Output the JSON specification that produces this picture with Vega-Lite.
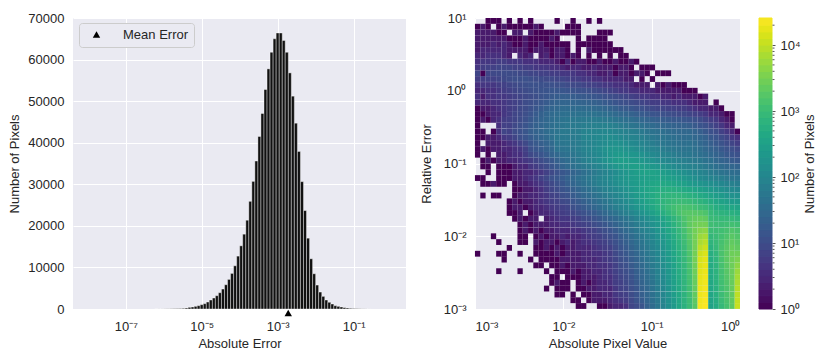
{"$schema":"https://vega.github.io/schema/vega-lite/v6.json","background":"white","padding":{"left":8,"top":12,"right":0,"bottom":0},
"config":{"view":{"fill":"#eaeaf2","stroke":null},"font":"Liberation Sans","axis":{"domain":false,"ticks":false,"grid":true,"gridColor":"white","gridWidth":1,"labelFont":"Liberation Sans","titleFont":"Liberation Sans","labelFontSize":13,"titleFontSize":13,"titleFontWeight":"normal","labelColor":"#262626","titleColor":"#262626"},"axisX":{"labelPadding":11,"titlePadding":4},"axisY":{"labelPadding":9,"titlePadding":6}},
"spacing":14,
"hconcat":[
{"width":333,"height":291,"layer":[
{"data":{"values":[{"lo":5.75e-7,"hi":6.92e-7,"n":5},{"lo":6.92e-7,"hi":8.32e-7,"n":10},{"lo":8.32e-7,"hi":1e-6,"n":15},{"lo":1e-6,"hi":1.2e-6,"n":25},{"lo":1.2e-6,"hi":1.45e-6,"n":35},{"lo":1.45e-6,"hi":1.74e-6,"n":50},{"lo":1.74e-6,"hi":2.09e-6,"n":70},{"lo":2.09e-6,"hi":2.51e-6,"n":90},{"lo":2.51e-6,"hi":3.02e-6,"n":120},{"lo":3.02e-6,"hi":3.63e-6,"n":160},{"lo":3.63e-6,"hi":4.37e-6,"n":240},{"lo":4.37e-6,"hi":5.25e-6,"n":400},{"lo":5.25e-6,"hi":6.31e-6,"n":480},{"lo":6.31e-6,"hi":7.59e-6,"n":640},{"lo":7.59e-6,"hi":9.12e-6,"n":800},{"lo":9.12e-6,"hi":1.1e-5,"n":1040},{"lo":1.1e-5,"hi":1.32e-5,"n":1280},{"lo":1.32e-5,"hi":1.58e-5,"n":1680},{"lo":1.58e-5,"hi":1.91e-5,"n":2160},{"lo":1.91e-5,"hi":2.29e-5,"n":2640},{"lo":2.29e-5,"hi":2.75e-5,"n":3200},{"lo":2.75e-5,"hi":3.31e-5,"n":3920},{"lo":3.31e-5,"hi":3.98e-5,"n":4800},{"lo":3.98e-5,"hi":4.79e-5,"n":5840},{"lo":4.79e-5,"hi":5.75e-5,"n":7120},{"lo":5.75e-5,"hi":6.92e-5,"n":8560},{"lo":6.92e-5,"hi":8.32e-5,"n":10400},{"lo":8.32e-5,"hi":1e-4,"n":12720},{"lo":1e-4,"hi":1.2e-4,"n":15200},{"lo":1.2e-4,"hi":1.45e-4,"n":18000},{"lo":1.45e-4,"hi":1.74e-4,"n":21360},{"lo":1.74e-4,"hi":2.09e-4,"n":25900},{"lo":2.09e-4,"hi":2.51e-4,"n":30700},{"lo":2.51e-4,"hi":3.02e-4,"n":35600},{"lo":3.02e-4,"hi":3.63e-4,"n":41500},{"lo":3.63e-4,"hi":4.37e-4,"n":47040},{"lo":4.37e-4,"hi":5.25e-4,"n":52800},{"lo":5.25e-4,"hi":6.31e-4,"n":57760},{"lo":6.31e-4,"hi":7.59e-4,"n":61760},{"lo":7.59e-4,"hi":9.12e-4,"n":65000},{"lo":9.12e-4,"hi":1.1e-3,"n":66400},{"lo":1.1e-3,"hi":1.32e-3,"n":66400},{"lo":1.32e-3,"hi":1.58e-3,"n":64600},{"lo":1.58e-3,"hi":1.91e-3,"n":61760},{"lo":1.91e-3,"hi":2.29e-3,"n":56800},{"lo":2.29e-3,"hi":2.75e-3,"n":51200},{"lo":2.75e-3,"hi":3.31e-3,"n":44700},{"lo":3.31e-3,"hi":3.98e-3,"n":37900},{"lo":3.98e-3,"hi":4.79e-3,"n":30640},{"lo":4.79e-3,"hi":5.75e-3,"n":23680},{"lo":5.75e-3,"hi":6.92e-3,"n":17040},{"lo":6.92e-3,"hi":8.32e-3,"n":12080},{"lo":8.32e-3,"hi":0.01,"n":8480},{"lo":0.01,"hi":0.012,"n":5760},{"lo":0.012,"hi":0.0145,"n":4080},{"lo":0.0145,"hi":0.0174,"n":3040},{"lo":0.0174,"hi":0.0209,"n":2160},{"lo":0.0209,"hi":0.0251,"n":1600},{"lo":0.0251,"hi":0.0302,"n":1200},{"lo":0.0302,"hi":0.0363,"n":800},{"lo":0.0363,"hi":0.0437,"n":640},{"lo":0.0437,"hi":0.0525,"n":480},{"lo":0.0525,"hi":0.0631,"n":320},{"lo":0.0631,"hi":0.0759,"n":240},{"lo":0.0759,"hi":0.0912,"n":160},{"lo":0.0912,"hi":0.11,"n":120},{"lo":0.11,"hi":0.132,"n":80},{"lo":0.132,"hi":0.158,"n":50},{"lo":0.158,"hi":0.191,"n":30},{"lo":0.191,"hi":0.229,"n":20},{"lo":0.229,"hi":0.275,"n":10}]},
"mark":{"type":"rect","fill":"#111111","stroke":"#ffffff","strokeWidth":0.4},
"encoding":{"x":{"field":"lo","type":"quantitative","scale":{"type":"log","domain":[4.07e-9,2.4],"nice":false},"axis":{"values":[1e-7,1e-5,1e-3,0.1],"title":"Absolute Error","labelExpr":"datum.value<1e-6?'10⁻⁷':datum.value<1e-4?'10⁻⁵':datum.value<0.01?'10⁻³':'10⁻¹'"}},"x2":{"field":"hi"},"y":{"field":"n","type":"quantitative","scale":{"domain":[0,70000],"nice":false},"axis":{"values":[0,10000,20000,30000,40000,50000,60000,70000],"title":"Number of Pixels","format":"d"}}}},
{"data":{"values":[{"mean":0.0019,"y":-960,"label":"Mean Error"}]},
"mark":{"type":"point","filled":true,"opacity":1,"size":55,"color":"black"},
"encoding":{"x":{"field":"mean","type":"quantitative"},"y":{"field":"y","type":"quantitative"},"shape":{"field":"label","type":"nominal","scale":{"range":["triangle-up"]},"legend":{"title":null,"orient":"none","legendX":6,"legendY":5,"fillColor":"#eaeaf2","strokeColor":"#cccccc","cornerRadius":3,"padding":5,"labelFontSize":13,"labelFont":"Liberation Sans","labelColor":"#262626","symbolSize":55,"symbolFillColor":"black","symbolStrokeColor":"black","labelOffset":20,"symbolOffset":6}}}}
]},
{"spacing":18,"hconcat":[
{"width":265,"height":291,
"data":{"values":"x,y,c\n.0148,.0011,1\n.017,.0011,1\n.0257,.0011,1\n.0295,.0011,1\n.0339,.0011,2\n.0389,.0011,3\n.0447,.0011,3\n.0513,.0011,4\n.0589,.0011,8\n.0676,.0011,10\n.0776,.0011,14\n.0891,.0011,22\n.102,.0011,35\n.117,.0011,55\n.135,.0011,90\n.155,.0011,150\n.178,.0011,240\n.204,.0011,400\n.234,.0011,650\n.269,.0011,1000\n.309,.0011,1800\n.355,.0011,22000\n.407,.0011,25000\n.468,.0011,350\n.537,.0011,500\n.617,.0011,900\n.708,.0011,1300\n.813,.0011,2000\n.933,.0011,11000\n.0129,.00132,1\n.0148,.00132,1\n.0195,.00132,1\n.0224,.00132,2\n.0257,.00132,2\n.0295,.00132,2\n.0339,.00132,3\n.0389,.00132,4\n.0447,.00132,5\n.0513,.00132,6\n.0589,.00132,9\n.0676,.00132,13\n.0776,.00132,18\n.0891,.00132,26\n.102,.00132,40\n.117,.00132,60\n.135,.00132,100\n.155,.00132,160\n.178,.00132,260\n.204,.00132,420\n.234,.00132,680\n.269,.00132,1050\n.309,.00132,2000\n.355,.00132,21000\n.407,.00132,24000\n.468,.00132,380\n.537,.00132,550\n.617,.00132,1000\n.708,.00132,1400\n.813,.00132,2100\n.933,.00132,10000\n.00851,.00158,1\n.00977,.00158,1\n.0129,.00158,1\n.017,.00158,1\n.0195,.00158,1\n.0224,.00158,2\n.0257,.00158,2\n.0295,.00158,3\n.0339,.00158,3\n.0389,.00158,5\n.0447,.00158,6\n.0513,.00158,7\n.0589,.00158,10\n.0676,.00158,14\n.0776,.00158,20\n.0891,.00158,28\n.102,.00158,42\n.117,.00158,65\n.135,.00158,105\n.155,.00158,170\n.178,.00158,280\n.204,.00158,440\n.234,.00158,700\n.269,.00158,1100\n.309,.00158,2200\n.355,.00158,20000\n.407,.00158,23000\n.468,.00158,400\n.537,.00158,600\n.617,.00158,1050\n.708,.00158,1450\n.813,.00158,2200\n.933,.00158,9500\n.00646,.00191,1\n.00851,.00191,1\n.00977,.00191,1\n.0112,.00191,1\n.0148,.00191,1\n.017,.00191,1\n.0195,.00191,2\n.0224,.00191,2\n.0257,.00191,3\n.0295,.00191,3\n.0339,.00191,3\n.0389,.00191,5\n.0447,.00191,7\n.0513,.00191,8\n.0589,.00191,11\n.0676,.00191,15\n.0776,.00191,22\n.0891,.00191,30\n.102,.00191,45\n.117,.00191,70\n.135,.00191,110\n.155,.00191,180\n.178,.00191,300\n.204,.00191,460\n.234,.00191,720\n.269,.00191,1150\n.309,.00191,2300\n.355,.00191,19000\n.407,.00191,22000\n.468,.00191,420\n.537,.00191,620\n.617,.00191,1100\n.708,.00191,1500\n.813,.00191,2300\n.933,.00191,8500\n.00741,.00229,1\n.00851,.00229,2\n.00977,.00229,1\n.0112,.00229,1\n.0148,.00229,1\n.017,.00229,2\n.0195,.00229,1\n.0224,.00229,2\n.0257,.00229,3\n.0295,.00229,3\n.0339,.00229,4\n.0389,.00229,6\n.0447,.00229,7\n.0513,.00229,9\n.0589,.00229,12\n.0676,.00229,17\n.0776,.00229,24\n.0891,.00229,33\n.102,.00229,48\n.117,.00229,75\n.135,.00229,120\n.155,.00229,190\n.178,.00229,320\n.204,.00229,480\n.234,.00229,740\n.269,.00229,1200\n.309,.00229,2400\n.355,.00229,18000\n.407,.00229,21000\n.468,.00229,440\n.537,.00229,640\n.617,.00229,1150\n.708,.00229,1600\n.813,.00229,2400\n.933,.00229,7500\n.00741,.00275,1\n.00851,.00275,1\n.0112,.00275,1\n.0129,.00275,1\n.0148,.00275,1\n.017,.00275,2\n.0195,.00275,2\n.0224,.00275,2\n.0257,.00275,3\n.0295,.00275,4\n.0339,.00275,4\n.0389,.00275,6\n.0447,.00275,8\n.0513,.00275,10\n.0589,.00275,13\n.0676,.00275,19\n.0776,.00275,26\n.0891,.00275,36\n.102,.00275,52\n.117,.00275,80\n.135,.00275,125\n.155,.00275,200\n.178,.00275,330\n.204,.00275,500\n.234,.00275,780\n.269,.00275,1250\n.309,.00275,2500\n.355,.00275,17000\n.407,.00275,20000\n.468,.00275,460\n.537,.00275,660\n.617,.00275,1200\n.708,.00275,1700\n.813,.00275,2500\n.933,.00275,6500\n.00186,.00331,1\n.00324,.00331,1\n.00646,.00331,1\n.00851,.00331,1\n.00977,.00331,1\n.0112,.00331,1\n.0129,.00331,2\n.0148,.00331,1\n.017,.00331,2\n.0195,.00331,2\n.0224,.00331,3\n.0257,.00331,3\n.0295,.00331,4\n.0339,.00331,5\n.0389,.00331,7\n.0447,.00331,9\n.0513,.00331,11\n.0589,.00331,15\n.0676,.00331,21\n.0776,.00331,28\n.0891,.00331,40\n.102,.00331,58\n.117,.00331,85\n.135,.00331,135\n.155,.00331,210\n.178,.00331,340\n.204,.00331,520\n.234,.00331,800\n.269,.00331,1300\n.309,.00331,2700\n.355,.00331,16000\n.407,.00331,19000\n.468,.00331,480\n.537,.00331,680\n.617,.00331,1250\n.708,.00331,1800\n.813,.00331,2600\n.933,.00331,5500\n.0049,.00398,1\n.00562,.00398,1\n.00741,.00398,1\n.00851,.00398,1\n.00977,.00398,2\n.0112,.00398,1\n.0129,.00398,2\n.0148,.00398,2\n.017,.00398,2\n.0195,.00398,3\n.0224,.00398,3\n.0257,.00398,4\n.0295,.00398,4\n.0339,.00398,5\n.0389,.00398,7\n.0447,.00398,10\n.0513,.00398,12\n.0589,.00398,17\n.0676,.00398,23\n.0776,.00398,31\n.0891,.00398,45\n.102,.00398,62\n.117,.00398,90\n.135,.00398,145\n.155,.00398,220\n.178,.00398,350\n.204,.00398,540\n.234,.00398,830\n.269,.00398,1350\n.309,.00398,2800\n.355,.00398,15000\n.407,.00398,18000\n.468,.00398,500\n.537,.00398,700\n.617,.00398,1300\n.708,.00398,1900\n.813,.00398,2700\n.933,.00398,4500\n.00214,.00479,1\n.00427,.00479,1\n.00562,.00479,1\n.00646,.00479,1\n.00741,.00479,1\n.00851,.00479,1\n.00977,.00479,2\n.0112,.00479,2\n.0129,.00479,2\n.0148,.00479,2\n.017,.00479,3\n.0195,.00479,3\n.0224,.00479,3\n.0257,.00479,4\n.0295,.00479,5\n.0339,.00479,6\n.0389,.00479,8\n.0447,.00479,11\n.0513,.00479,14\n.0589,.00479,19\n.0676,.00479,25\n.0776,.00479,35\n.0891,.00479,50\n.102,.00479,68\n.117,.00479,100\n.135,.00479,155\n.155,.00479,240\n.178,.00479,370\n.204,.00479,570\n.234,.00479,860\n.269,.00479,1400\n.309,.00479,3000\n.355,.00479,14000\n.407,.00479,17000\n.468,.00479,520\n.537,.00479,750\n.617,.00479,1350\n.708,.00479,2000\n.813,.00479,2800\n.933,.00479,3500\n.00107,.00575,1\n.00186,.00575,1\n.00214,.00575,1\n.00324,.00575,1\n.0049,.00575,1\n.00562,.00575,1\n.00646,.00575,1\n.00741,.00575,1\n.00851,.00575,2\n.00977,.00575,1\n.0112,.00575,2\n.0129,.00575,2\n.0148,.00575,2\n.017,.00575,3\n.0195,.00575,3\n.0224,.00575,4\n.0257,.00575,4\n.0295,.00575,5\n.0339,.00575,6\n.0389,.00575,9\n.0447,.00575,12\n.0513,.00575,16\n.0589,.00575,21\n.0676,.00575,28\n.0776,.00575,40\n.0891,.00575,55\n.102,.00575,75\n.117,.00575,110\n.135,.00575,170\n.155,.00575,260\n.178,.00575,400\n.204,.00575,600\n.234,.00575,900\n.269,.00575,1500\n.309,.00575,3000\n.355,.00575,12000\n.407,.00575,15000\n.468,.00575,560\n.537,.00575,800\n.617,.00575,1400\n.708,.00575,2000\n.813,.00575,2700\n.933,.00575,2800\n.00245,.00692,1\n.0049,.00692,1\n.00562,.00692,1\n.00646,.00692,2\n.00741,.00692,1\n.00851,.00692,2\n.00977,.00692,1\n.0112,.00692,2\n.0129,.00692,2\n.0148,.00692,3\n.017,.00692,3\n.0195,.00692,3\n.0224,.00692,4\n.0257,.00692,5\n.0295,.00692,6\n.0339,.00692,7\n.0389,.00692,10\n.0447,.00692,14\n.0513,.00692,18\n.0589,.00692,24\n.0676,.00692,32\n.0776,.00692,45\n.0891,.00692,60\n.102,.00692,85\n.117,.00692,120\n.135,.00692,185\n.155,.00692,280\n.178,.00692,430\n.204,.00692,640\n.234,.00692,950\n.269,.00692,1600\n.309,.00692,3000\n.355,.00692,9000\n.407,.00692,12000\n.468,.00692,650\n.537,.00692,900\n.617,.00692,1400\n.708,.00692,1900\n.813,.00692,2500\n.933,.00692,2200\n.00186,.00832,1\n.00324,.00832,1\n.00372,.00832,1\n.0049,.00832,2\n.00562,.00832,1\n.00646,.00832,2\n.00741,.00832,2\n.00851,.00832,1\n.00977,.00832,2\n.0112,.00832,3\n.0129,.00832,2\n.0148,.00832,3\n.017,.00832,4\n.0195,.00832,4\n.0224,.00832,5\n.0257,.00832,6\n.0295,.00832,7\n.0339,.00832,9\n.0389,.00832,12\n.0447,.00832,16\n.0513,.00832,21\n.0589,.00832,28\n.0676,.00832,38\n.0776,.00832,50\n.0891,.00832,70\n.102,.00832,95\n.117,.00832,140\n.155,.00832,320\n.135,.00832,205\n.178,.00832,470\n.204,.00832,700\n.234,.00832,1050\n.269,.00832,1700\n.309,.00832,3000\n.355,.00832,7000\n.407,.00832,9000\n.468,.00832,750\n.537,.00832,950\n.617,.00832,1300\n.708,.00832,1700\n.813,.00832,2200\n.933,.00832,1900\n.00162,.01,1\n.00324,.01,1\n.00372,.01,1\n.0049,.01,1\n.00562,.01,2\n.00646,.01,1\n.00741,.01,2\n.00851,.01,2\n.00977,.01,3\n.0112,.01,2\n.0129,.01,3\n.0148,.01,3\n.017,.01,4\n.0195,.01,5\n.0224,.01,6\n.0257,.01,7\n.0295,.01,9\n.0339,.01,11\n.0389,.01,14\n.0447,.01,19\n.0513,.01,25\n.0589,.01,33\n.0676,.01,45\n.0776,.01,58\n.0891,.01,80\n.102,.01,110\n.117,.01,160\n.135,.01,230\n.155,.01,350\n.178,.01,520\n.204,.01,780\n.234,.01,1150\n.269,.01,1900\n.309,.01,3000\n.355,.01,5500\n.407,.01,6500\n.468,.01,850\n.537,.01,1000\n.617,.01,1200\n.708,.01,1500\n.813,.01,1900\n.933,.01,1600\n.00324,.012,1\n.00372,.012,2\n.00427,.012,1\n.0049,.012,2\n.00562,.012,1\n.00646,.012,2\n.00741,.012,2\n.00851,.012,3\n.00977,.012,3\n.0112,.012,3\n.0129,.012,4\n.0148,.012,4\n.017,.012,5\n.0195,.012,6\n.0224,.012,7\n.0257,.012,9\n.0295,.012,11\n.0339,.012,14\n.0389,.012,18\n.0447,.012,24\n.0513,.012,32\n.0589,.012,42\n.0676,.012,55\n.0776,.012,75\n.0891,.012,100\n.102,.012,130\n.117,.012,190\n.135,.012,270\n.155,.012,400\n.178,.012,580\n.204,.012,850\n.234,.012,1250\n.269,.012,2000\n.309,.012,2900\n.355,.012,4000\n.407,.012,4500\n.468,.012,1000\n.537,.012,1050\n.617,.012,1150\n.708,.012,1300\n.813,.012,1600\n.933,.012,1400\n.00324,.0145,1\n.00372,.0145,2\n.00427,.0145,1\n.0049,.0145,2\n.00562,.0145,2\n.00646,.0145,2\n.00741,.0145,3\n.00851,.0145,3\n.00977,.0145,4\n.0112,.0145,4\n.0129,.0145,5\n.0148,.0145,6\n.017,.0145,7\n.0195,.0145,8\n.0224,.0145,10\n.0257,.0145,12\n.0295,.0145,15\n.0339,.0145,19\n.0389,.0145,24\n.0447,.0145,31\n.0513,.0145,40\n.0589,.0145,52\n.0676,.0145,68\n.0776,.0145,90\n.0891,.0145,120\n.102,.0145,160\n.117,.0145,220\n.135,.0145,310\n.155,.0145,450\n.178,.0145,650\n.204,.0145,950\n.234,.0145,1350\n.269,.0145,2100\n.309,.0145,2700\n.355,.0145,3000\n.407,.0145,3000\n.468,.0145,1100\n.537,.0145,1050\n.617,.0145,1050\n.708,.0145,1100\n.813,.0145,1200\n.933,.0145,1100\n.00282,.0174,1\n.00324,.0174,2\n.00372,.0174,1\n.00427,.0174,2\n.0049,.0174,2\n.00646,.0174,2\n.00741,.0174,3\n.00851,.0174,4\n.00977,.0174,5\n.0112,.0174,5\n.0129,.0174,6\n.0148,.0174,7\n.017,.0174,9\n.0195,.0174,10\n.0224,.0174,13\n.0257,.0174,16\n.0295,.0174,20\n.0339,.0174,25\n.0389,.0174,31\n.0447,.0174,40\n.0513,.0174,50\n.0589,.0174,64\n.0676,.0174,85\n.0776,.0174,110\n.0891,.0174,145\n.102,.0174,190\n.117,.0174,260\n.135,.0174,360\n.155,.0174,500\n.178,.0174,720\n.204,.0174,1000\n.234,.0174,1450\n.269,.0174,2000\n.309,.0174,2300\n.355,.0174,2400\n.407,.0174,2200\n.468,.0174,1000\n.537,.0174,950\n.617,.0174,900\n.708,.0174,900\n.813,.0174,900\n.933,.0174,800\n.00245,.0209,1\n.00282,.0209,1\n.00324,.0209,2\n.00427,.0209,1\n.0049,.0209,2\n.00562,.0209,3\n.00646,.0209,3\n.00741,.0209,4\n.00851,.0209,5\n.00977,.0209,6\n.0112,.0209,7\n.0129,.0209,8\n.0148,.0209,10\n.017,.0209,12\n.0195,.0209,15\n.0224,.0209,18\n.0257,.0209,23\n.0295,.0209,30\n.0339,.0209,38\n.0389,.0209,48\n.0447,.0209,62\n.0513,.0209,78\n.0589,.0209,100\n.0676,.0209,130\n.0776,.0209,170\n.0891,.0209,220\n.102,.0209,300\n.117,.0209,400\n.135,.0209,550\n.155,.0209,750\n.178,.0209,1000\n.204,.0209,1350\n.234,.0209,1700\n.269,.0209,1800\n.309,.0209,1800\n.355,.0209,1700\n.407,.0209,1500\n.468,.0209,900\n.537,.0209,750\n.617,.0209,700\n.708,.0209,650\n.813,.0209,620\n.933,.0209,550\n.00245,.0251,1\n.00282,.0251,2\n.00324,.0251,2\n.00372,.0251,1\n.00427,.0251,2\n.0049,.0251,3\n.00562,.0251,3\n.00646,.0251,4\n.00741,.0251,5\n.00851,.0251,6\n.00977,.0251,7\n.0112,.0251,8\n.0129,.0251,11\n.0148,.0251,14\n.017,.0251,17\n.0195,.0251,21\n.0224,.0251,27\n.0257,.0251,34\n.0295,.0251,44\n.0339,.0251,55\n.0389,.0251,72\n.0447,.0251,90\n.0513,.0251,115\n.0589,.0251,150\n.0676,.0251,190\n.0776,.0251,250\n.0891,.0251,330\n.102,.0251,430\n.117,.0251,560\n.135,.0251,750\n.155,.0251,950\n.178,.0251,1150\n.204,.0251,1350\n.234,.0251,1400\n.269,.0251,1350\n.309,.0251,1200\n.355,.0251,1050\n.407,.0251,950\n.468,.0251,720\n.537,.0251,550\n.617,.0251,500\n.708,.0251,450\n.813,.0251,420\n.933,.0251,380\n.00245,.0302,1\n.00282,.0302,2\n.00324,.0302,1\n.00372,.0302,2\n.00427,.0302,2\n.0049,.0302,3\n.00562,.0302,4\n.00646,.0302,5\n.00741,.0302,6\n.00851,.0302,7\n.00977,.0302,9\n.0112,.0302,10\n.0129,.0302,14\n.0148,.0302,17\n.017,.0302,21\n.0195,.0302,26\n.0224,.0302,33\n.0257,.0302,42\n.0295,.0302,52\n.0339,.0302,65\n.0389,.0302,85\n.0447,.0302,105\n.0513,.0302,135\n.0589,.0302,170\n.0676,.0302,220\n.0776,.0302,280\n.0891,.0302,360\n.102,.0302,460\n.117,.0302,580\n.135,.0302,720\n.155,.0302,850\n.178,.0302,950\n.204,.0302,1000\n.234,.0302,1000\n.269,.0302,950\n.309,.0302,850\n.355,.0302,720\n.407,.0302,620\n.468,.0302,500\n.537,.0302,400\n.617,.0302,350\n.708,.0302,300\n.813,.0302,260\n.933,.0302,240\n.00123,.0363,1\n.00162,.0363,1\n.00186,.0363,1\n.00282,.0363,1\n.00324,.0363,2\n.00372,.0363,2\n.00427,.0363,3\n.0049,.0363,3\n.00562,.0363,4\n.00646,.0363,5\n.00741,.0363,7\n.00851,.0363,8\n.00977,.0363,11\n.0112,.0363,13\n.0129,.0363,18\n.0148,.0363,22\n.017,.0363,28\n.0195,.0363,34\n.0224,.0363,42\n.0257,.0363,52\n.0295,.0363,65\n.0339,.0363,80\n.0389,.0363,100\n.0447,.0363,125\n.0513,.0363,150\n.0589,.0363,190\n.0676,.0363,240\n.0776,.0363,300\n.0891,.0363,380\n.102,.0363,470\n.117,.0363,570\n.135,.0363,680\n.155,.0363,750\n.178,.0363,800\n.204,.0363,780\n.234,.0363,720\n.269,.0363,650\n.309,.0363,580\n.355,.0363,480\n.407,.0363,420\n.468,.0363,340\n.537,.0363,280\n.617,.0363,240\n.708,.0363,200\n.813,.0363,170\n.933,.0363,160\n.00282,.0437,1\n.00324,.0437,1\n.00372,.0437,2\n.00427,.0437,2\n.0049,.0437,3\n.00562,.0437,4\n.00646,.0437,6\n.00741,.0437,8\n.00851,.0437,10\n.00977,.0437,13\n.0112,.0437,16\n.0129,.0437,20\n.0148,.0437,26\n.017,.0437,33\n.0195,.0437,42\n.0224,.0437,52\n.0257,.0437,64\n.0295,.0437,80\n.0339,.0437,100\n.0389,.0437,120\n.0447,.0437,140\n.0513,.0437,170\n.0589,.0437,210\n.0676,.0437,260\n.0776,.0437,310\n.0891,.0437,370\n.102,.0437,440\n.117,.0437,510\n.135,.0437,560\n.155,.0437,590\n.178,.0437,570\n.204,.0437,520\n.234,.0437,470\n.269,.0437,420\n.309,.0437,370\n.355,.0437,320\n.407,.0437,280\n.468,.0437,230\n.537,.0437,190\n.617,.0437,160\n.708,.0437,140\n.813,.0437,120\n.933,.0437,110\n.00123,.0525,1\n.00141,.0525,1\n.00162,.0525,2\n.00186,.0525,1\n.00214,.0525,1\n.00282,.0525,1\n.00324,.0525,2\n.00372,.0525,2\n.00427,.0525,3\n.0049,.0525,4\n.00562,.0525,5\n.00646,.0525,7\n.00741,.0525,9\n.00851,.0525,12\n.00977,.0525,15\n.0112,.0525,20\n.0129,.0525,26\n.0148,.0525,33\n.017,.0525,42\n.0195,.0525,52\n.0224,.0525,65\n.0257,.0525,80\n.0295,.0525,95\n.0339,.0525,115\n.0389,.0525,140\n.0447,.0525,165\n.0513,.0525,190\n.0589,.0525,230\n.0676,.0525,260\n.0776,.0525,300\n.0891,.0525,350\n.102,.0525,390\n.117,.0525,420\n.135,.0525,450\n.155,.0525,430\n.178,.0525,390\n.204,.0525,350\n.234,.0525,310\n.269,.0525,260\n.309,.0525,220\n.355,.0525,190\n.407,.0525,170\n.468,.0525,150\n.537,.0525,130\n.617,.0525,110\n.708,.0525,90\n.813,.0525,80\n.933,.0525,70\n.00107,.0631,1\n.00123,.0631,1\n.00186,.0631,1\n.00214,.0631,1\n.00245,.0631,1\n.00282,.0631,2\n.00324,.0631,2\n.00372,.0631,3\n.00427,.0631,4\n.0049,.0631,5\n.00562,.0631,7\n.00646,.0631,9\n.00741,.0631,12\n.00851,.0631,15\n.00977,.0631,18\n.0112,.0631,23\n.0129,.0631,30\n.0148,.0631,38\n.017,.0631,46\n.0195,.0631,58\n.0224,.0631,70\n.0257,.0631,85\n.0295,.0631,105\n.0339,.0631,125\n.0389,.0631,150\n.0447,.0631,180\n.0513,.0631,210\n.0589,.0631,240\n.0676,.0631,270\n.0776,.0631,290\n.0891,.0631,310\n.102,.0631,330\n.117,.0631,340\n.135,.0631,340\n.155,.0631,320\n.178,.0631,290\n.204,.0631,250\n.234,.0631,215\n.269,.0631,180\n.309,.0631,150\n.355,.0631,125\n.407,.0631,110\n.468,.0631,95\n.537,.0631,80\n.617,.0631,70\n.708,.0631,60\n.813,.0631,50\n.933,.0631,50\n.00141,.0759,1\n.00186,.0759,1\n.00214,.0759,1\n.00245,.0759,1\n.00282,.0759,2\n.00324,.0759,2\n.00372,.0759,3\n.00427,.0759,3\n.0049,.0759,4\n.00562,.0759,5\n.00646,.0759,7\n.00741,.0759,9\n.00851,.0759,12\n.00977,.0759,15\n.0112,.0759,18\n.0129,.0759,24\n.0148,.0759,30\n.017,.0759,38\n.0195,.0759,48\n.0224,.0759,60\n.0257,.0759,75\n.0295,.0759,90\n.0339,.0759,110\n.0389,.0759,135\n.0447,.0759,165\n.0513,.0759,200\n.0589,.0759,240\n.0676,.0759,280\n.0776,.0759,320\n.0891,.0759,340\n.102,.0759,350\n.117,.0759,320\n.135,.0759,280\n.155,.0759,240\n.178,.0759,210\n.204,.0759,180\n.234,.0759,150\n.269,.0759,130\n.309,.0759,110\n.355,.0759,95\n.407,.0759,80\n.468,.0759,68\n.537,.0759,55\n.617,.0759,48\n.708,.0759,42\n.813,.0759,38\n.933,.0759,35\n.00123,.0912,1\n.00141,.0912,1\n.00186,.0912,1\n.00214,.0912,1\n.00245,.0912,1\n.00282,.0912,2\n.00324,.0912,3\n.00372,.0912,3\n.00427,.0912,5\n.0049,.0912,6\n.00562,.0912,8\n.00646,.0912,10\n.00741,.0912,14\n.00851,.0912,18\n.00977,.0912,25\n.0112,.0912,32\n.0129,.0912,40\n.0148,.0912,50\n.017,.0912,60\n.0195,.0912,70\n.0224,.0912,85\n.0257,.0912,105\n.0295,.0912,130\n.0339,.0912,160\n.0389,.0912,200\n.0447,.0912,240\n.0513,.0912,270\n.0589,.0912,290\n.0676,.0912,300\n.0776,.0912,280\n.0891,.0912,250\n.102,.0912,220\n.117,.0912,200\n.135,.0912,180\n.155,.0912,150\n.178,.0912,130\n.204,.0912,110\n.234,.0912,100\n.269,.0912,90\n.309,.0912,80\n.355,.0912,70\n.407,.0912,60\n.468,.0912,50\n.537,.0912,40\n.617,.0912,35\n.708,.0912,30\n.813,.0912,28\n.933,.0912,25\n.00123,.11,1\n.00141,.11,2\n.00162,.11,1\n.00186,.11,2\n.00214,.11,2\n.00245,.11,3\n.00282,.11,3\n.00324,.11,4\n.00372,.11,5\n.00427,.11,6\n.0049,.11,8\n.00562,.11,10\n.00646,.11,13\n.00741,.11,16\n.00851,.11,22\n.00977,.11,30\n.0112,.11,36\n.0129,.11,45\n.0148,.11,58\n.017,.11,72\n.0195,.11,88\n.0224,.11,105\n.0257,.11,130\n.0295,.11,160\n.0339,.11,200\n.0389,.11,260\n.0447,.11,290\n.0513,.11,280\n.0589,.11,260\n.0676,.11,240\n.0776,.11,210\n.0891,.11,180\n.102,.11,160\n.117,.11,135\n.135,.11,120\n.155,.11,105\n.178,.11,95\n.204,.11,82\n.234,.11,75\n.269,.11,68\n.309,.11,60\n.355,.11,55\n.407,.11,46\n.468,.11,40\n.537,.11,30\n.617,.11,25\n.708,.11,22\n.813,.11,18\n.933,.11,16\n.00107,.132,1\n.00141,.132,1\n.00186,.132,2\n.00214,.132,2\n.00245,.132,3\n.00282,.132,4\n.00324,.132,4\n.00372,.132,6\n.00427,.132,9\n.0049,.132,11\n.00562,.132,14\n.00646,.132,18\n.00741,.132,24\n.00851,.132,30\n.00977,.132,38\n.0112,.132,44\n.0129,.132,52\n.0148,.132,62\n.017,.132,75\n.0195,.132,90\n.0224,.132,105\n.0257,.132,125\n.0295,.132,150\n.0339,.132,190\n.0389,.132,230\n.0447,.132,240\n.0513,.132,220\n.0589,.132,200\n.0676,.132,190\n.0776,.132,165\n.0891,.132,140\n.102,.132,120\n.117,.132,105\n.135,.132,90\n.155,.132,80\n.178,.132,70\n.204,.132,60\n.234,.132,56\n.269,.132,55\n.309,.132,48\n.355,.132,42\n.407,.132,36\n.468,.132,30\n.537,.132,24\n.617,.132,20\n.708,.132,16\n.813,.132,14\n.933,.132,12\n.00107,.158,1\n.00123,.158,2\n.00141,.158,1\n.00162,.158,2\n.00186,.158,2\n.00214,.158,3\n.00245,.158,3\n.00282,.158,4\n.00324,.158,5\n.00372,.158,7\n.00427,.158,12\n.0049,.158,15\n.00562,.158,18\n.00646,.158,22\n.00741,.158,28\n.00851,.158,45\n.00977,.158,48\n.0112,.158,52\n.0129,.158,60\n.0148,.158,70\n.017,.158,85\n.0195,.158,100\n.0224,.158,115\n.0257,.158,135\n.0295,.158,160\n.0339,.158,190\n.0389,.158,200\n.0447,.158,190\n.0513,.158,170\n.0589,.158,155\n.0676,.158,140\n.0776,.158,120\n.0891,.158,100\n.102,.158,90\n.117,.158,80\n.135,.158,70\n.155,.158,60\n.178,.158,55\n.204,.158,50\n.234,.158,48\n.269,.158,50\n.309,.158,42\n.355,.158,36\n.407,.158,30\n.468,.158,24\n.537,.158,20\n.617,.158,16\n.708,.158,13\n.813,.158,11\n.933,.158,9\n.00107,.191,1\n.00141,.191,2\n.00162,.191,2\n.00186,.191,2\n.00214,.191,3\n.00245,.191,4\n.00282,.191,5\n.00324,.191,7\n.00372,.191,9\n.00427,.191,14\n.0049,.191,17\n.00562,.191,20\n.00646,.191,25\n.00741,.191,32\n.00851,.191,50\n.00977,.191,52\n.0112,.191,55\n.0129,.191,60\n.0148,.191,68\n.017,.191,80\n.0195,.191,90\n.0224,.191,105\n.0257,.191,120\n.0295,.191,135\n.0339,.191,150\n.0389,.191,160\n.0447,.191,150\n.0513,.191,135\n.0589,.191,120\n.0676,.191,110\n.0776,.191,95\n.0891,.191,80\n.102,.191,70\n.117,.191,60\n.135,.191,55\n.155,.191,50\n.178,.191,45\n.204,.191,42\n.234,.191,40\n.269,.191,42\n.309,.191,36\n.355,.191,30\n.407,.191,25\n.468,.191,20\n.537,.191,16\n.617,.191,13\n.708,.191,10\n.813,.191,8\n.933,.191,6\n.00107,.229,1\n.00123,.229,1\n.00141,.229,2\n.00162,.229,2\n.00186,.229,3\n.00214,.229,5\n.00245,.229,6\n.00282,.229,8\n.00324,.229,11\n.00372,.229,14\n.00427,.229,18\n.0049,.229,22\n.00562,.229,26\n.00646,.229,32\n.00741,.229,42\n.00851,.229,55\n.00977,.229,58\n.0112,.229,60\n.0129,.229,65\n.0148,.229,70\n.017,.229,100\n.0195,.229,105\n.0224,.229,110\n.0257,.229,120\n.0295,.229,130\n.0339,.229,140\n.0389,.229,130\n.0447,.229,115\n.0513,.229,100\n.0589,.229,92\n.0676,.229,90\n.0776,.229,75\n.0891,.229,65\n.102,.229,55\n.117,.229,50\n.135,.229,50\n.155,.229,44\n.178,.229,40\n.204,.229,36\n.234,.229,34\n.269,.229,35\n.309,.229,30\n.355,.229,26\n.407,.229,22\n.468,.229,16\n.537,.229,14\n.617,.229,10\n.708,.229,8\n.813,.229,5\n.933,.229,4\n.00107,.275,1\n.00123,.275,1\n.00162,.275,1\n.00186,.275,4\n.00214,.275,8\n.00245,.275,7\n.00282,.275,10\n.00324,.275,12\n.00372,.275,15\n.00427,.275,20\n.0049,.275,24\n.00562,.275,28\n.00646,.275,35\n.00741,.275,44\n.00851,.275,50\n.00977,.275,60\n.0112,.275,60\n.0129,.275,65\n.0148,.275,70\n.017,.275,90\n.0195,.275,95\n.0224,.275,100\n.0257,.275,105\n.0295,.275,110\n.0339,.275,110\n.0389,.275,100\n.0447,.275,90\n.0513,.275,80\n.0589,.275,75\n.0676,.275,70\n.0776,.275,60\n.0891,.275,50\n.102,.275,45\n.117,.275,42\n.135,.275,40\n.155,.275,35\n.178,.275,32\n.204,.275,30\n.234,.275,30\n.269,.275,30\n.309,.275,25\n.355,.275,20\n.407,.275,16\n.468,.275,12\n.537,.275,10\n.617,.275,7\n.708,.275,5\n.813,.275,3\n.933,.275,1\n.00107,.331,1\n.00186,.331,4\n.00214,.331,7\n.00245,.331,7\n.00282,.331,9\n.00324,.331,11\n.00372,.331,14\n.00427,.331,18\n.0049,.331,22\n.00562,.331,26\n.00646,.331,32\n.00741,.331,38\n.00851,.331,45\n.00977,.331,52\n.0112,.331,58\n.0129,.331,62\n.0148,.331,66\n.017,.331,72\n.0195,.331,76\n.0224,.331,80\n.0257,.331,82\n.0295,.331,85\n.0339,.331,80\n.0389,.331,75\n.0447,.331,65\n.0513,.331,58\n.0589,.331,52\n.0676,.331,48\n.0776,.331,42\n.0891,.331,36\n.102,.331,34\n.117,.331,30\n.135,.331,28\n.155,.331,26\n.178,.331,24\n.204,.331,22\n.234,.331,22\n.269,.331,20\n.309,.331,17\n.355,.331,14\n.407,.331,12\n.468,.331,9\n.537,.331,7\n.617,.331,5\n.708,.331,3\n.813,.331,2\n.00107,.398,1\n.00123,.398,2\n.00141,.398,1\n.00162,.398,3\n.00186,.398,4\n.00214,.398,6\n.00245,.398,7\n.00282,.398,8\n.00324,.398,10\n.00372,.398,12\n.00427,.398,16\n.0049,.398,20\n.00562,.398,25\n.00646,.398,30\n.00741,.398,35\n.00851,.398,42\n.00977,.398,48\n.0112,.398,52\n.0129,.398,55\n.0148,.398,58\n.017,.398,60\n.0195,.398,62\n.0224,.398,64\n.0257,.398,62\n.0295,.398,60\n.0339,.398,55\n.0389,.398,50\n.0447,.398,44\n.0513,.398,40\n.0589,.398,36\n.0676,.398,32\n.0776,.398,28\n.0891,.398,25\n.102,.398,22\n.117,.398,20\n.135,.398,19\n.155,.398,18\n.178,.398,16\n.204,.398,16\n.234,.398,15\n.269,.398,14\n.309,.398,12\n.355,.398,10\n.407,.398,8\n.468,.398,6\n.537,.398,5\n.617,.398,3\n.708,.398,2\n.813,.398,1\n.00107,.479,1\n.00123,.479,1\n.00141,.479,2\n.00162,.479,3\n.00186,.479,3\n.00214,.479,5\n.00245,.479,6\n.00282,.479,8\n.00324,.479,9\n.00372,.479,11\n.00427,.479,14\n.0049,.479,18\n.00562,.479,22\n.00646,.479,27\n.00741,.479,32\n.00851,.479,36\n.00977,.479,40\n.0112,.479,42\n.0129,.479,44\n.0148,.479,45\n.017,.479,46\n.0195,.479,46\n.0224,.479,45\n.0257,.479,42\n.0295,.479,40\n.0339,.479,36\n.0389,.479,32\n.0447,.479,28\n.0513,.479,26\n.0589,.479,23\n.0676,.479,20\n.0776,.479,18\n.0891,.479,16\n.102,.479,14\n.117,.479,13\n.135,.479,12\n.155,.479,11\n.178,.479,10\n.204,.479,9\n.234,.479,9\n.269,.479,8\n.309,.479,7\n.355,.479,6\n.407,.479,5\n.468,.479,3\n.537,.479,3\n.617,.479,2\n.708,.479,1\n.813,.479,1\n.00107,.575,1\n.00123,.575,2\n.00141,.575,2\n.00162,.575,3\n.00186,.575,4\n.00214,.575,5\n.00245,.575,6\n.00282,.575,7\n.00324,.575,9\n.00372,.575,10\n.00427,.575,12\n.0049,.575,15\n.00562,.575,18\n.00646,.575,22\n.00741,.575,26\n.00851,.575,30\n.00977,.575,33\n.0112,.575,34\n.0129,.575,34\n.0148,.575,35\n.017,.575,34\n.0195,.575,33\n.0224,.575,32\n.0257,.575,30\n.0295,.575,27\n.0339,.575,24\n.0389,.575,21\n.0447,.575,18\n.0513,.575,17\n.0589,.575,15\n.0676,.575,13\n.0776,.575,12\n.0891,.575,10\n.102,.575,9\n.117,.575,8\n.135,.575,8\n.155,.575,7\n.178,.575,7\n.204,.575,6\n.234,.575,6\n.269,.575,5\n.309,.575,4\n.355,.575,3\n.407,.575,3\n.468,.575,2\n.537,.575,2\n.617,.575,1\n.00107,.692,3\n.00123,.692,3\n.00141,.692,3\n.00162,.692,4\n.00186,.692,4\n.00214,.692,5\n.00245,.692,6\n.00282,.692,7\n.00324,.692,8\n.00372,.692,10\n.00427,.692,11\n.0049,.692,13\n.00562,.692,15\n.00646,.692,18\n.00741,.692,21\n.00851,.692,24\n.00977,.692,26\n.0112,.692,26\n.0129,.692,26\n.0148,.692,25\n.017,.692,24\n.0195,.692,23\n.0224,.692,22\n.0257,.692,20\n.0295,.692,18\n.0339,.692,16\n.0389,.692,14\n.0447,.692,12\n.0513,.692,11\n.0589,.692,10\n.0676,.692,9\n.0776,.692,8\n.0891,.692,7\n.102,.692,6\n.117,.692,6\n.135,.692,5\n.155,.692,5\n.178,.692,4\n.204,.692,4\n.234,.692,4\n.269,.692,3\n.309,.692,2\n.355,.692,2\n.407,.692,2\n.537,.692,1\n.00107,.832,4\n.00123,.832,2\n.00141,.832,4\n.00162,.832,4\n.00186,.832,5\n.00214,.832,5\n.00245,.832,6\n.00282,.832,7\n.00324,.832,8\n.00372,.832,9\n.00427,.832,10\n.0049,.832,11\n.00562,.832,13\n.00646,.832,15\n.00741,.832,17\n.00851,.832,19\n.00977,.832,20\n.0112,.832,20\n.0129,.832,19\n.0148,.832,18\n.017,.832,17\n.0195,.832,16\n.0224,.832,15\n.0257,.832,14\n.0295,.832,12\n.0339,.832,11\n.0389,.832,10\n.0447,.832,9\n.0513,.832,8\n.0589,.832,7\n.0676,.832,6\n.0776,.832,5\n.0891,.832,5\n.102,.832,4\n.117,.832,4\n.135,.832,3\n.155,.832,3\n.178,.832,2\n.204,.832,3\n.234,.832,2\n.269,.832,2\n.309,.832,2\n.355,.832,1\n.407,.832,2\n.00107,1,3\n.00123,1,3\n.00141,1,4\n.00162,1,4\n.00186,1,5\n.00214,1,6\n.00245,1,7\n.00282,1,8\n.00324,1,9\n.00372,1,10\n.00427,1,11\n.0049,1,12\n.00562,1,13\n.00646,1,14\n.00741,1,15\n.00851,1,15\n.00977,1,15\n.0112,1,14\n.0129,1,13\n.0148,1,12\n.017,1,12\n.0195,1,11\n.0224,1,10\n.0257,1,9\n.0295,1,8\n.0339,1,7\n.0389,1,6\n.0447,1,5\n.0513,1,5\n.0589,1,4\n.0676,1,4\n.0776,1,3\n.0891,1,3\n.102,1,3\n.117,1,2\n.135,1,2\n.155,1,2\n.178,1,2\n.204,1,2\n.234,1,1\n.269,1,1\n.309,1,1\n.00107,1.2,4\n.00123,1.2,5\n.00141,1.2,5\n.00162,1.2,5\n.00186,1.2,6\n.00214,1.2,7\n.00245,1.2,8\n.00282,1.2,9\n.00324,1.2,10\n.00372,1.2,11\n.00427,1.2,12\n.0049,1.2,12\n.00562,1.2,12\n.00646,1.2,12\n.00741,1.2,12\n.00851,1.2,11\n.00977,1.2,11\n.0112,1.2,10\n.0129,1.2,9\n.0148,1.2,9\n.017,1.2,8\n.0195,1.2,7\n.0224,1.2,7\n.0257,1.2,6\n.0295,1.2,5\n.0339,1.2,5\n.0389,1.2,4\n.0447,1.2,4\n.0513,1.2,4\n.0589,1.2,3\n.0676,1.2,2\n.0776,1.2,2\n.0891,1.2,2\n.117,1.2,2\n.135,1.2,1\n.155,1.2,2\n.178,1.2,1\n.204,1.2,1\n.234,1.2,1\n.00107,1.45,6\n.00123,1.45,6\n.00141,1.45,7\n.00162,1.45,7\n.00186,1.45,8\n.00214,1.45,9\n.00245,1.45,10\n.00282,1.45,11\n.00324,1.45,11\n.00372,1.45,12\n.00427,1.45,11\n.0049,1.45,10\n.00562,1.45,10\n.00646,1.45,9\n.00741,1.45,9\n.00851,1.45,8\n.00977,1.45,8\n.0112,1.45,7\n.0129,1.45,6\n.0148,1.45,6\n.017,1.45,5\n.0195,1.45,5\n.0224,1.45,4\n.0257,1.45,4\n.0295,1.45,3\n.0339,1.45,3\n.0389,1.45,3\n.0447,1.45,3\n.0513,1.45,2\n.0589,1.45,2\n.0776,1.45,1\n.102,1.45,1\n.00107,1.74,8\n.00123,1.74,1\n.00141,1.74,8\n.00162,1.74,9\n.00186,1.74,9\n.00214,1.74,10\n.00245,1.74,10\n.00282,1.74,10\n.00324,1.74,9\n.00372,1.74,9\n.00427,1.74,8\n.0049,1.74,8\n.00562,1.74,7\n.00646,1.74,7\n.00741,1.74,6\n.00851,1.74,6\n.00977,1.74,5\n.0112,1.74,5\n.0129,1.74,5\n.0148,1.74,4\n.017,1.74,4\n.0195,1.74,3\n.0224,1.74,3\n.0257,1.74,2\n.0295,1.74,2\n.0339,1.74,3\n.0389,1.74,1\n.0447,1.74,2\n.0513,1.74,2\n.0589,1.74,1\n.0676,1.74,2\n.0776,1.74,2\n.0891,1.74,1\n.117,1.74,1\n.135,1.74,1\n.155,1.74,1\n.00107,2.09,5\n.00123,2.09,6\n.00141,2.09,7\n.00162,2.09,7\n.00186,2.09,8\n.00214,2.09,8\n.00245,2.09,8\n.00282,2.09,7\n.00324,2.09,7\n.00372,2.09,6\n.00427,2.09,6\n.0049,2.09,5\n.00562,2.09,5\n.00646,2.09,5\n.00741,2.09,4\n.00851,2.09,4\n.00977,2.09,3\n.0112,2.09,2\n.0129,2.09,3\n.0148,2.09,3\n.017,2.09,2\n.0195,2.09,2\n.0224,2.09,3\n.0257,2.09,2\n.0295,2.09,2\n.0339,2.09,2\n.0389,2.09,1\n.0447,2.09,2\n.0513,2.09,2\n.0589,2.09,1\n.0776,2.09,1\n.0891,2.09,1\n.102,2.09,1\n.00107,2.51,4\n.00123,2.51,5\n.00141,2.51,5\n.00162,2.51,5\n.00186,2.51,6\n.00214,2.51,6\n.00245,2.51,5\n.00282,2.51,5\n.00324,2.51,5\n.00372,2.51,4\n.00427,2.51,4\n.0049,2.51,4\n.00562,2.51,3\n.00646,2.51,3\n.00741,2.51,3\n.00851,2.51,2\n.00977,2.51,1\n.0112,2.51,3\n.0129,2.51,1\n.0148,2.51,2\n.017,2.51,2\n.0195,2.51,1\n.0224,2.51,1\n.0257,2.51,2\n.0295,2.51,1\n.0339,2.51,1\n.0389,2.51,2\n.0447,2.51,1\n.0513,2.51,1\n.0589,2.51,2\n.0676,2.51,1\n.00107,3.02,3\n.00123,3.02,3\n.00141,3.02,4\n.00162,3.02,4\n.00186,3.02,4\n.00214,3.02,3\n.00245,3.02,2\n.00324,3.02,3\n.00372,3.02,2\n.00427,3.02,3\n.00562,3.02,2\n.00646,3.02,3\n.00741,3.02,1\n.00851,3.02,2\n.00977,3.02,2\n.0112,3.02,1\n.0129,3.02,2\n.0148,3.02,1\n.0195,3.02,1\n.0257,3.02,1\n.0339,3.02,1\n.0447,3.02,1\n.0513,3.02,1\n.00107,3.63,2\n.00123,3.63,3\n.00141,3.63,3\n.00162,3.63,3\n.00186,3.63,3\n.00214,3.63,3\n.00245,3.63,2\n.00282,3.63,2\n.00324,3.63,2\n.00372,3.63,2\n.00427,3.63,1\n.0049,3.63,2\n.00562,3.63,2\n.00646,3.63,2\n.00741,3.63,1\n.00851,3.63,2\n.00977,3.63,2\n.0112,3.63,1\n.0148,3.63,1\n.0195,3.63,2\n.0224,3.63,1\n.0257,3.63,1\n.0295,3.63,1\n.0339,3.63,1\n.0389,3.63,1\n.0447,3.63,1\n.00107,4.37,2\n.00123,4.37,2\n.00141,4.37,2\n.00162,4.37,3\n.00186,4.37,2\n.00214,4.37,3\n.00245,4.37,2\n.00282,4.37,1\n.00324,4.37,1\n.00372,4.37,2\n.00427,4.37,1\n.0049,4.37,1\n.00562,4.37,2\n.00646,4.37,1\n.00741,4.37,1\n.00851,4.37,1\n.00977,4.37,1\n.0112,4.37,1\n.0148,4.37,1\n.017,4.37,1\n.0195,4.37,1\n.0224,4.37,1\n.0257,4.37,1\n.0295,4.37,1\n.0339,4.37,1\n.00107,5.25,2\n.00123,5.25,2\n.00141,5.25,2\n.00162,5.25,2\n.00186,5.25,2\n.00214,5.25,2\n.00245,5.25,1\n.00282,5.25,1\n.00324,5.25,1\n.00372,5.25,2\n.00427,5.25,1\n.0049,5.25,1\n.00562,5.25,1\n.00646,5.25,1\n.00741,5.25,2\n.00851,5.25,1\n.0148,5.25,1\n.0195,5.25,1\n.0224,5.25,1\n.0257,5.25,1\n.0295,5.25,1\n.00107,6.31,2\n.00123,6.31,2\n.00141,6.31,2\n.00162,6.31,2\n.00186,6.31,1\n.00214,6.31,1\n.00282,6.31,2\n.00324,6.31,2\n.00427,6.31,2\n.0049,6.31,1\n.00562,6.31,1\n.00646,6.31,1\n.00741,6.31,1\n.00851,6.31,2\n.00977,6.31,1\n.0112,6.31,1\n.0129,6.31,1\n.0148,6.31,1\n.0257,6.31,1\n.0295,6.31,1\n.0339,6.31,1\n.00107,7.59,1\n.00123,7.59,2\n.00141,7.59,1\n.00186,7.59,1\n.00214,7.59,2\n.00245,7.59,1\n.00282,7.59,1\n.00324,7.59,1\n.00372,7.59,1\n.00427,7.59,1\n.0049,7.59,2\n.00562,7.59,1\n.0112,7.59,1\n.0129,7.59,1\n.0148,7.59,1\n.00141,9.12,1\n.00162,9.12,1\n.00186,9.12,1\n.00245,9.12,1\n.00324,9.12,1\n.00427,9.12,1\n.00851,9.12,1\n.0129,9.12,1\n.0195,9.12,1\n.0257,9.12,1\n","format":{"type":"csv"}},
"mark":{"type":"rect","width":5.3,"height":5.82},
"encoding":{"x":{"field":"x","type":"quantitative","scale":{"type":"log","domain":[0.001,1],"nice":false},"axis":{"values":[0.001,0.01,0.1,1],"title":"Absolute Pixel Value","labelExpr":"datum.value<0.005?'10⁻³':datum.value<0.05?'10⁻²':datum.value<0.5?'10⁻¹':'10⁰'"}},"y":{"field":"y","type":"quantitative","scale":{"type":"log","domain":[0.001,10],"nice":false},"axis":{"values":[0.001,0.01,0.1,1,10],"title":"Relative Error","titlePadding":10,"labelExpr":"datum.value<0.005?'10⁻³':datum.value<0.05?'10⁻²':datum.value<0.5?'10⁻¹':datum.value<5?'10⁰':'10¹'"}},"color":{"field":"c","type":"quantitative","scale":{"type":"log","domain":[1,25700],"scheme":"viridis"},"legend":null}}},
{"width":13,"height":291,"layer":[
{"data":{"values":[{"lo":1,"hi":1.26,"c":1.12},{"lo":1.26,"hi":1.58,"c":1.41},{"lo":1.58,"hi":2,"c":1.78},{"lo":2,"hi":2.51,"c":2.24},{"lo":2.51,"hi":3.16,"c":2.82},{"lo":3.16,"hi":3.98,"c":3.55},{"lo":3.98,"hi":5.01,"c":4.47},{"lo":5.01,"hi":6.31,"c":5.62},{"lo":6.31,"hi":7.94,"c":7.08},{"lo":7.94,"hi":10,"c":8.91},{"lo":10,"hi":12.6,"c":11.2},{"lo":12.6,"hi":15.8,"c":14.1},{"lo":15.8,"hi":20,"c":17.8},{"lo":20,"hi":25.1,"c":22.4},{"lo":25.1,"hi":31.6,"c":28.2},{"lo":31.6,"hi":39.8,"c":35.5},{"lo":39.8,"hi":50.1,"c":44.7},{"lo":50.1,"hi":63.1,"c":56.2},{"lo":63.1,"hi":79.4,"c":70.8},{"lo":79.4,"hi":100,"c":89.1},{"lo":100,"hi":126,"c":112},{"lo":126,"hi":158,"c":141},{"lo":158,"hi":200,"c":178},{"lo":200,"hi":251,"c":224},{"lo":251,"hi":316,"c":282},{"lo":316,"hi":398,"c":355},{"lo":398,"hi":501,"c":447},{"lo":501,"hi":631,"c":562},{"lo":631,"hi":794,"c":708},{"lo":794,"hi":1000,"c":891},{"lo":1000,"hi":1260,"c":1120},{"lo":1260,"hi":1580,"c":1410},{"lo":1580,"hi":2000,"c":1780},{"lo":2000,"hi":2510,"c":2240},{"lo":2510,"hi":3160,"c":2820},{"lo":3160,"hi":3980,"c":3550},{"lo":3980,"hi":5010,"c":4470},{"lo":5010,"hi":6310,"c":5620},{"lo":6310,"hi":7940,"c":7080},{"lo":7940,"hi":10000,"c":8910},{"lo":10000,"hi":12600,"c":11200},{"lo":12600,"hi":15800,"c":14100},{"lo":15800,"hi":20000,"c":17800},{"lo":20000,"hi":25700,"c":22500}]},
"mark":{"type":"rect"},"encoding":{"x":{"datum":0,"type":"quantitative","scale":{"domain":[0,1]},"axis":null},"x2":{"datum":1},"y":{"field":"lo","type":"quantitative","scale":{"type":"log","domain":[1,25700],"nice":false},"axis":{"orient":"right","grid":false,"ticks":true,"tickColor":"#555555","tickSize":3,"values":[1,10,100,1000,10000],"title":"Number of Pixels","titleAngle":270,"titlePadding":16,"labelPadding":5,"labelExpr":"datum.value<5?'10⁰':datum.value<50?'10¹':datum.value<500?'10²':datum.value<5000?'10³':'10⁴'"}},"y2":{"field":"hi"},"color":{"field":"c","type":"quantitative","scale":{"type":"log","domain":[1,25700],"scheme":"viridis"},"legend":null},"stroke":{"field":"c","type":"quantitative","scale":{"type":"log","domain":[1,25700],"scheme":"viridis"},"legend":null}}},
{"data":{"values":[{"m":2},{"m":3},{"m":4},{"m":5},{"m":6},{"m":7},{"m":8},{"m":9},{"m":20},{"m":30},{"m":40},{"m":50},{"m":60},{"m":70},{"m":80},{"m":90},{"m":200},{"m":300},{"m":400},{"m":500},{"m":600},{"m":700},{"m":800},{"m":900},{"m":2000},{"m":3000},{"m":4000},{"m":5000},{"m":6000},{"m":7000},{"m":8000},{"m":9000},{"m":20000}]},
"mark":{"type":"tick","orient":"horizontal","size":2,"thickness":1,"color":"#555555","opacity":1,"xOffset":1.5},"encoding":{"x":{"datum":1,"type":"quantitative"},"y":{"field":"m","type":"quantitative"}}}
]}
]}
]}
